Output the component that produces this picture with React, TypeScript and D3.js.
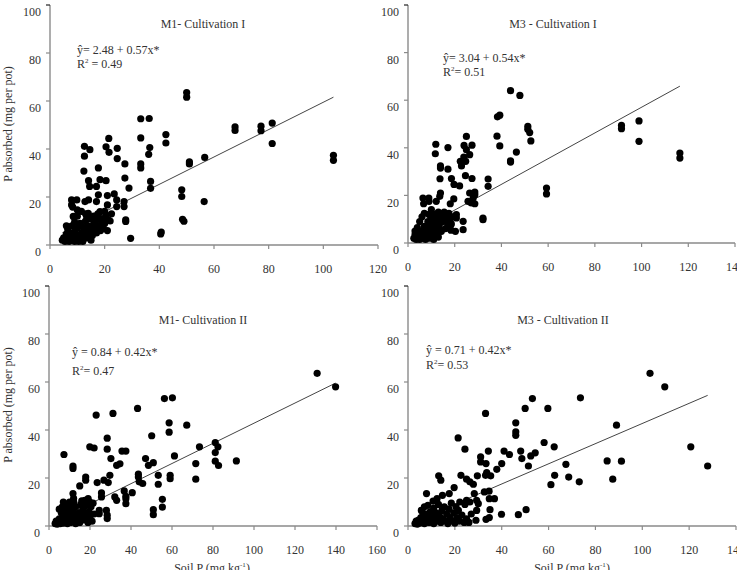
import * as d3 from 'd3';

type Pt = [number, number];

const yTicks = [0, 20, 40, 60, 80, 100];
const xTicksM1I = [0, 20, 40, 60, 80, 100, 120];
const xTicksM3I = [0, 20, 40, 60, 80, 100, 120, 140];
const xTicksM1II = [0, 20, 40, 60, 80, 100, 120, 140, 160];
const xTicksM3II = [0, 20, 40, 60, 80, 100, 120, 140];

const panelTitles = ['M1- Cultivation I', 'M3 - Cultivation I', 'M1- Cultivation II', 'M3 - Cultivation II'];
const equations = ['ŷ= 2.48 + 0.57x*', 'ŷ= 3.04 + 0.54x*', 'ŷ = 0.84 + 0.42x*', 'ŷ = 0.71 + 0.42x*'];
const rSquaredTexts = [' = 0.49', '= 0.51', '= 0.47', '= 0.53'];
const intercepts = [2.48, 3.04, 0.84, 0.71];
const slopes = [0.57, 0.54, 0.42, 0.42];

// soil P (mg/kg), P absorbed (mg per pot)
const m1CultIPoints: Pt[] = [
  [50, 63.5], [50, 61.6], [36.3, 52.7], [33.2, 52.6], [67.7, 49.2], [67.7, 47.7], [77.2, 49.5], [77.2, 47.6],
  [81.3, 50.8], [81.3, 42.3], [42.4, 46], [42.4, 42.5], [21.5, 44.4], [33.2, 44.6], [36.5, 40.6], [36.1, 37.8],
  [103.7, 37.4], [103.7, 35.3], [56.6, 36.5], [51, 34.6], [51, 33.8], [33.2, 33.8], [33.2, 32.1], [36.8, 26.5],
  [36.8, 23.6], [48.2, 23], [48.2, 20.2], [56.4, 18.1], [48.5, 10.7], [49, 9.9], [40.7, 5.4], [40.5, 4.6], [29.5, 2.8],
  [12.6, 41.1], [12.6, 37], [14.6, 39.7], [12.4, 30.8], [20.5, 40.9], [21.6, 38.6], [24.6, 40.3], [24.6, 36],
  [27.4, 33.8], [17.7, 32.1], [27.4, 27.9], [28.9, 23.7], [14.1, 26.8], [14.5, 24.4], [18.3, 27.2], [20.5, 26.8],
  [17, 24.4], [17.7, 20.9], [21, 20.6], [23.5, 21.3], [24.4, 18.8], [24.4, 16], [27.1, 18.1], [27.1, 16], [21, 16.7],
  [17, 18.1], [18.3, 13.9], [7.9, 18.8], [9.8, 18.8], [7.9, 16.7], [8.3, 15.8], [10, 14.6], [12.8, 18.1], [14.1, 18.8],
  [27.7, 10.5], [27.7, 9.8], [21.3, 10.5], [18.9, 9.8], [8.5, 11.9], [14, 13.2], [13.4, 11.9],
  [4.5, 2], [5, 3], [5.5, 1.5], [6, 2.5], [6, 4.5], [6.5, 6.5], [7, 1.5], [7, 3.5], [7.5, 5], [8, 2], [8, 8],
  [8.5, 3.5], [9, 1.5], [9, 5.5], [9.5, 2.5], [10, 4], [10, 7], [10.5, 1.5], [11, 3], [11, 9], [11.5, 5], [12, 2],
  [12, 7.5], [12.5, 4], [13, 6], [13, 10], [13.5, 3], [14, 8], [14, 5], [14.5, 11], [15, 6.5], [15.5, 4], [16, 9],
  [16, 12], [16.5, 7], [17, 5], [17, 10.5], [17.5, 13], [18, 8], [18.5, 6], [19, 11], [19.5, 7], [20, 9], [20.5, 12.5],
  [21, 6], [22, 10], [15, 2], [12, 1.5], [9, 9.5], [6, 8], [10, 12], [13, 13], [11.5, 14], [20, 14], [22.5, 13],
];

const m3CultIPoints: Pt[] = [
  [43.9, 64], [47.9, 62], [38.3, 53], [39.3, 53.7], [38.1, 44.9], [39.3, 40.8], [51.3, 49], [51.3, 47.8],
  [52.1, 46.4], [52.6, 42.9], [46.4, 38.2], [43.9, 34.5], [43.9, 34], [59.3, 23.1], [59.3, 20.6], [91.4, 49.4],
  [91.4, 48], [98.9, 51.3], [98.9, 42.7], [116.4, 37.8], [116.4, 35.7],
  [11.9, 41.5], [11.7, 37.5], [17.1, 40.1], [13.9, 32.4], [13.9, 31.5], [13.7, 27], [17.1, 31], [25, 44.8], [24, 41],
  [25, 39.2], [27.4, 41.1], [26.4, 37.1], [23.9, 36.1], [24.7, 34.3], [22.4, 34.3], [22.9, 32.4], [24.6, 28.3],
  [27.4, 27.1], [18.6, 27.1], [19.7, 24.6], [22.1, 24], [34.3, 26.9], [34.3, 23.8], [28.6, 21.4], [28.6, 20.3],
  [27.9, 18.9], [26.4, 21], [25.7, 17.5], [27.1, 16.8], [28.6, 16.5], [13.9, 21], [13.6, 19.6], [6.4, 18.9],
  [6.7, 16.5], [8.9, 18.9], [9, 17.5], [12.1, 17.5], [18.1, 16.5], [19.6, 18.5], [32.1, 10.5], [32.1, 9.8],
  [23.6, 9.1], [23.6, 5.6], [20.3, 4.9], [20.7, 11.9], [20.7, 10.5], [14.3, 4.9], [17.1, 7], [18.4, 7.8], [18.4, 5.4],
  [2.5, 2], [3, 3.5], [3.5, 1.5], [4, 2.5], [4.5, 4.5], [4, 6.5], [5, 1.5], [5.5, 3], [6, 5], [6.5, 2], [7, 4], [7, 7],
  [7.5, 1.5], [8, 3], [8, 6], [8.5, 9], [9, 2], [9, 4.5], [9.5, 7.5], [10, 3], [10, 10], [10.5, 5.5], [11, 1.5],
  [11, 8], [11.5, 12], [12, 4], [12, 6.5], [12.5, 10], [13, 2.5], [13, 13], [13.5, 8], [14, 5.5], [14.5, 11], [15, 9],
  [15.5, 13], [16, 6], [16, 11.5], [17, 9.5], [17.5, 12.5], [18, 10], [18.5, 8], [19, 11], [5, 9], [6, 11], [3, 5],
  [7, 12.5], [10, 14], [12, 11], [9, 12], [11, 6],
];

const m1CultIIPoints: Pt[] = [
  [130.8, 63.6], [139.8, 58], [56.3, 53.1], [60.2, 53.4], [43.2, 49], [31.2, 46.9], [23, 46.2], [58.6, 43],
  [58.6, 39.1], [67.2, 42], [28.4, 36.6], [50.1, 37.6], [7.3, 29.8], [19.9, 33], [22, 32.5], [28.4, 32], [35.6, 31.2],
  [37.5, 31.2], [30.2, 28.1], [47.1, 28.1], [33, 25.3], [34.6, 25.9], [50.9, 26.4], [48.5, 25.3], [73.4, 33],
  [61.2, 29.2], [81.1, 34.8], [82.4, 33], [81.1, 30.6], [81.1, 27], [82.7, 25.2], [91.4, 27.1], [71.6, 26],
  [71.6, 19.5], [11.7, 25], [11.7, 24], [15, 16.7], [17.9, 20.4], [17.9, 19.1], [23.5, 18.1], [25.6, 13.8],
  [26.8, 19.1], [28.9, 18.1], [29.7, 21.1], [43.6, 21.6], [43.6, 20.4], [44, 18.4], [45.7, 17.7], [53.3, 21.1],
  [53.3, 17.4], [59.1, 21.1], [59.1, 19.7], [36.7, 14.6], [37.5, 12.4], [37.5, 11.4], [32.1, 12.1], [33, 10.7],
  [37.5, 9.3], [40.6, 13.9], [55.3, 11.1], [55.3, 7.9], [50.9, 6.8], [50.9, 4.7], [11.7, 13.5], [12.1, 10],
  [17.5, 10.7], [19.1, 11.4], [19.9, 10], [24.5, 6.5], [24.5, 5.1], [28, 6.5], [28.4, 4.5], [28.4, 3.1], [25.6, 12.1],
  [3, 1], [3.5, 2], [4, 0.8], [4.5, 1.8], [5, 3], [5.5, 1], [6, 2.2], [6, 5.5], [6.5, 8], [7, 1.2], [7, 3.5], [7.5, 6],
  [8, 2], [8, 9], [8.5, 4], [9, 1], [9, 7], [9.5, 3], [10, 5], [10.5, 1.5], [10.5, 8.5], [11, 3.5], [11.5, 6.5],
  [12, 2], [12.5, 4.5], [13, 1], [13, 8], [14, 3], [14.5, 5.5], [15, 1.5], [15.5, 9], [16, 4], [16.5, 7], [17, 2.5],
  [17.5, 5], [18, 8.5], [18.5, 3], [19, 1.5], [19.5, 6], [20, 4], [20.5, 8], [21, 2], [22, 5], [21.5, 9.5], [16, 10.5],
  [10, 10], [12, 11.5], [7, 10], [5, 7],
];

const m3CultIIPoints: Pt[] = [
  [103.3, 63.6], [109.6, 58], [53.1, 53.1], [73.6, 53.4], [50, 49], [59.7, 49], [33.1, 46.9], [46, 43], [46, 39.2],
  [46, 37.8], [89, 42], [21.4, 36.7], [24.3, 32], [58.1, 34.8], [62.4, 33], [120.7, 33], [34.3, 31.2], [41, 31.2],
  [43.3, 29.8], [48.1, 31.2], [52.4, 29.2], [54.3, 30.5], [48.6, 28.1], [31, 28.8], [31, 26.7], [33.3, 26], [40, 26],
  [51.4, 25], [67.4, 25.7], [85, 27.1], [91.1, 27], [127.9, 25], [37.9, 23.6], [33.6, 22.3], [35.3, 20.9],
  [33.1, 21.1], [29.6, 20.9], [22.6, 21.1], [13.1, 20.9], [14, 19.1], [25, 19.5], [26.4, 18.4], [27.9, 17.4],
  [62.6, 21.1], [68.6, 20.4], [73.1, 18.4], [87.4, 19.5], [61, 17.2], [19.7, 16], [7.9, 13.5], [17.6, 13.5],
  [14.7, 12.8], [12.4, 11.4], [10.7, 10.4], [28.3, 13.5], [32.6, 14.2], [34.6, 14.5], [34.7, 11.4], [36.9, 11.4],
  [29.3, 10.7], [30, 9.3], [25, 10.7], [26.4, 10], [24.3, 9], [22.1, 10], [35, 6.8], [39.9, 4.9], [47.1, 4.7],
  [50.4, 6.8], [29.3, 6.5], [29, 2.4], [33.3, 2.8], [34.7, 3.5],
  [3, 1], [3.5, 2], [4, 0.8], [4.5, 2.5], [5, 1.2], [5.5, 3.5], [6, 1.8], [6, 6.5], [6.5, 4.5], [7, 1], [7, 8],
  [7.5, 2.5], [8, 5], [8.5, 8.6], [9, 1.5], [9, 3.5], [9.5, 6], [10, 2.2], [10.5, 4.5], [11, 1], [11, 7.5], [11.5, 3],
  [12, 5.5], [12.5, 2], [13, 9], [13.5, 4], [14, 1.5], [14.5, 6.5], [15, 3], [15.5, 8], [16, 2], [16.5, 5], [17, 1],
  [17.5, 7], [18, 3.5], [18.5, 9.5], [19, 2], [19.5, 5.5], [20, 1.2], [20.5, 8], [21, 3.5], [21.5, 6.5], [22, 2],
  [23, 4.5], [24, 1.5], [25, 3], [26, 1.5], [27, 5], [5.7, 6.5],
];

const panelPoints = [m1CultIPoints, m3CultIPoints, m1CultIIPoints, m3CultIIPoints];
const panelXTicks = [xTicksM1I, xTicksM3I, xTicksM1II, xTicksM3II];

const layouts = [
  { left: 50, right: 378, top: 5, bottom: 245, titleX: 203, titleY: 28, eqX: 77, eqY: 54, rY: 68 },
  { left: 408, right: 735, top: 5, bottom: 243, titleX: 553, titleY: 28, eqX: 443, eqY: 62, rY: 76 },
  { left: 49, right: 377, top: 286, bottom: 526, titleX: 203, titleY: 324, eqX: 72, eqY: 356, rY: 375 },
  { left: 408, right: 736, top: 286, bottom: 526, titleX: 563, titleY: 324, eqX: 426, eqY: 354, rY: 369 },
];

const TEXT = '#333';
const AXIS = '#8a8a8a';

function Panel({ index }: { index: number }) {
  const lay = layouts[index];
  const points = panelPoints[index];
  const xTicks = panelXTicks[index];
  const x = d3.scaleLinear().domain([0, xTicks[xTicks.length - 1]]).range([lay.left, lay.right]);
  const y = d3.scaleLinear().domain([0, 100]).range([lay.bottom, lay.top]);
  const [minX, maxX] = d3.extent(points, (d) => d[0]) as [number, number];
  const fit = (v: number) => intercepts[index] + slopes[index] * v;
  const line = d3
    .line<number>()
    .x((v) => x(v))
    .y((v) => y(fit(v)));

  return (
    <g>
      {/* axes */}
      <line x1={lay.left} x2={lay.left} y1={lay.top} y2={lay.bottom} stroke={AXIS} strokeWidth={1.4} />
      <line x1={lay.left} x2={lay.right} y1={lay.bottom} y2={lay.bottom} stroke={AXIS} strokeWidth={1.4} />
      {yTicks.map((t) => (
        <g key={'y' + t}>
          <line x1={lay.left - 4} x2={lay.left} y1={y(t)} y2={y(t)} stroke={t === 100 ? '#222' : AXIS} strokeWidth={1.2} />
          <text x={lay.left - 9} y={y(t) + 7} dy="0.35em" textAnchor="end" fontSize={12} fill={TEXT}>
            {t}
          </text>
        </g>
      ))}
      {xTicks.map((t) => (
        <g key={'x' + t}>
          <line x1={x(t)} x2={x(t)} y1={lay.bottom} y2={lay.bottom + 4} stroke={AXIS} strokeWidth={1.2} />
          <text x={x(t)} y={lay.bottom + 24} dy="0.35em" textAnchor="middle" fontSize={12} fill={TEXT}>
            {t}
          </text>
        </g>
      ))}
      {/* fitted line */}
      <path d={line([minX, maxX]) ?? ''} fill="none" stroke="#444" strokeWidth={1} />
      {/* points */}
      {points.map((p, i) => (
        <circle key={i} cx={x(p[0])} cy={y(p[1])} r={3.6} fill="#000" />
      ))}
      {/* labels */}
      <text x={lay.titleX} y={lay.titleY} textAnchor="middle" fontSize={12} fill={TEXT}>
        {panelTitles[index]}
      </text>
      <text x={lay.eqX} y={lay.eqY} fontSize={12} fill={TEXT}>
        {equations[index]}
      </text>
      <text x={lay.eqX} y={lay.rY} fontSize={12} fill={TEXT}>
        R<tspan fontSize={7} dy={-5}>2</tspan>
        <tspan dy={5}>{rSquaredTexts[index]}</tspan>
      </text>
    </g>
  );
}

export default function App() {
  return (
    <svg
      width={737}
      height={570}
      style={{ position: 'absolute', left: 0, top: 0, background: '#fff' }}
      fontFamily='"Liberation Serif", "Times New Roman", serif'
    >
      <rect width={737} height={570} fill="#fff" />
      {[0, 1, 2, 3].map((i) => (
        <Panel key={i} index={i} />
      ))}
      <text transform="translate(12,124) rotate(-90)" textAnchor="middle" fontSize={12} fill={TEXT}>
        P absorbed (mg per pot)
      </text>
      <text transform="translate(12,405) rotate(-90)" textAnchor="middle" fontSize={12} fill={TEXT}>
        P absorbed (mg per pot)
      </text>
      <text x={212} y={572} textAnchor="middle" fontSize={12} fill={TEXT}>
        Soil P (mg kg<tspan fontSize={7} dy={-5}>-1</tspan>
        <tspan dy={5}>)</tspan>
      </text>
      <text x={572} y={572} textAnchor="middle" fontSize={12} fill={TEXT}>
        Soil P (mg kg<tspan fontSize={7} dy={-5}>-1</tspan>
        <tspan dy={5}>)</tspan>
      </text>
    </svg>
  );
}
